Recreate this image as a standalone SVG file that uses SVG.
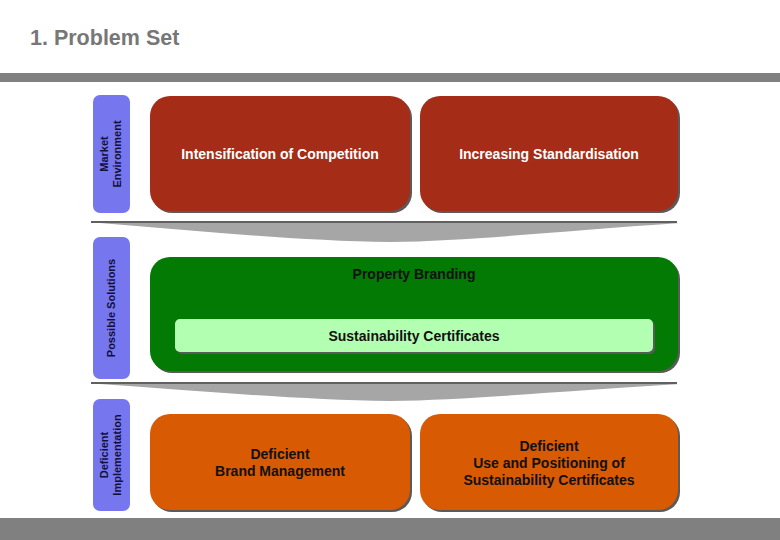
<svg xmlns="http://www.w3.org/2000/svg" width="780" height="540" viewBox="0 0 780 540">
<defs>
<style>
text{font-family:"Liberation Sans",Arial,sans-serif;font-weight:bold;}
.bar{fill:#808080;}
.lab{fill:#7676EE;}
.labt{font-size:11px;fill:#10103a;text-anchor:middle;}
.shadow{fill:#5a5a5a;}
.red{fill:#A52C17;}
.green{fill:#037A03;}
.light{fill:#B2FFB2;}
.orange{fill:#D85A02;}
.wt{font-size:14px;fill:#ffffff;text-anchor:middle;}
.bt{font-size:14px;fill:#111111;text-anchor:middle;}
.sepline{stroke:#606060;stroke-width:2;}
.wedge{fill:#a6a6a6;}
</style>
</defs>
<rect width="780" height="540" fill="#ffffff"/>
<text x="30" y="45" style="font-size:21.5px;fill:#777777;">1. Problem Set</text>
<rect class="bar" x="0" y="73" width="780" height="9"/>
<rect class="bar" x="0" y="518" width="780" height="22"/>

<g id="label-market">
<rect class="lab" x="93" y="95" width="37" height="118" rx="7"/>
<text class="labt" transform="translate(111,154) rotate(-90)"><tspan x="0" y="-3">Market</tspan><tspan x="0" y="10">Environment</tspan></text>
</g>
<g id="label-solutions">
<rect class="lab" x="93" y="237" width="37" height="142" rx="7"/>
<text class="labt" transform="translate(111,308) rotate(-90)"><tspan x="0" y="4">Possible Solutions</tspan></text>
</g>
<g id="label-implementation">
<rect class="lab" x="93" y="399" width="37" height="112" rx="7"/>
<text class="labt" transform="translate(111,455) rotate(-90)"><tspan x="0" y="-3">Deficient</tspan><tspan x="0" y="10">Implementation</tspan></text>
</g>

<g id="connectors">
<path class="wedge" d="M100,223 L680,223 C560,231 470,241 390,242 C300,241 200,231 100,223 Z"/>
<line class="sepline" x1="91" y1="222" x2="677" y2="222"/>
<path class="wedge" d="M100,384 L680,384 C560,391 470,400 390,401 C300,400 200,391 100,384 Z"/>
<line class="sepline" x1="91" y1="383" x2="677" y2="383"/>
</g>

<g id="node-competition">
<rect class="shadow" x="152" y="98" width="260" height="115" rx="20"/>
<rect class="red" x="150" y="96" width="260" height="115" rx="20"/>
<text class="wt" x="280" y="159">Intensification of Competition</text>
</g>
<g id="node-standardisation">
<rect class="shadow" x="422" y="98" width="258" height="115" rx="20"/>
<rect class="red" x="420" y="96" width="258" height="115" rx="20"/>
<text class="wt" x="549" y="159">Increasing Standardisation</text>
</g>

<g id="node-branding">
<rect class="shadow" x="152" y="259" width="528" height="114" rx="20"/>
<rect class="green" x="150" y="257" width="528" height="114" rx="20"/>
<text class="bt" x="414" y="279">Property Branding</text>
</g>
<g id="node-certificates">
<rect class="shadow" x="177" y="321" width="478" height="33" rx="5"/>
<rect class="light" x="175" y="319" width="478" height="33" rx="5"/>
<text class="bt" x="414" y="341">Sustainability Certificates</text>
</g>

<g id="node-brand-management">
<rect class="shadow" x="152" y="416" width="260" height="96" rx="20"/>
<rect class="orange" x="150" y="414" width="260" height="96" rx="20"/>
<text class="bt" x="280" y="459">Deficient</text>
<text class="bt" x="280" y="476">Brand Management</text>
</g>
<g id="node-certificate-use">
<rect class="shadow" x="422" y="416" width="258" height="96" rx="20"/>
<rect class="orange" x="420" y="414" width="258" height="96" rx="20"/>
<text class="bt" x="549" y="451">Deficient</text>
<text class="bt" x="549" y="468">Use and Positioning of</text>
<text class="bt" x="549" y="485">Sustainability Certificates</text>
</g>
</svg>
